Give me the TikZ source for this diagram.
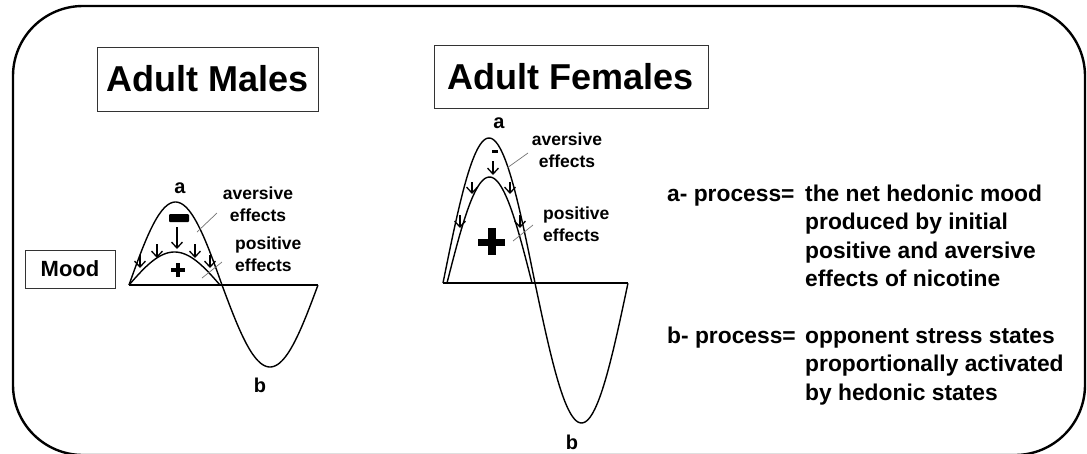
\documentclass[tikz,border=0pt]{standalone}
\usepackage{fontspec}
\setmainfont{Liberation Sans}
\usetikzlibrary{arrows.meta}
\begin{document}
\begin{tikzpicture}[x=1pt,y=-1pt,
  curve/.style={line width=1.4pt, line join=round},
  axisline/.style={line width=1.4pt},
  tbox/.style={draw=black!80, line width=0.9pt, inner sep=0pt, font=\fontsize{36}{40}\selectfont\bfseries},
  moodbox/.style={draw=black!80, line width=0.9pt, inner sep=0pt, font=\fontsize{22}{25}\selectfont\bfseries},
  lbl/.style={font=\fontsize{17.5}{22}\selectfont\bfseries, inner sep=0pt},
  ab/.style={font=\fontsize{20}{22}\selectfont\bfseries, inner sep=0pt},
  rt/.style={font=\fontsize{22.8}{28.5}\selectfont\bfseries, inner sep=0pt, anchor=north west, align=left},
  arr/.style={line width=1.3pt, -{Straight Barb[length=6pt,width=11pt,line width=1.3pt]}},
  leader/.style={draw=black!55, line width=0.7pt},
]
\useasboundingbox (0,0) rectangle (1087,453);
\begin{scope}
\clip (0,0) rectangle (1087,453);
\draw[line width=2.4pt, rounded corners=70pt] (13,6) rectangle (1085,455);
\end{scope}

% titles
\node[tbox, minimum width=221pt, minimum height=64pt] (tm) at (207.5,79) {Adult Males};
\node[tbox, minimum width=274pt, minimum height=63pt] (tf) at (571,76.5) {Adult Females};
\node[moodbox, minimum width=90pt, minimum height=38pt] (mood) at (70,269) {Mood};

% ---------------- males ----------------
\draw[axisline] (129,285) -- (318,285);
\draw[curve] plot[domain=0:1, samples=60, smooth] ({129+93*\x},{285-83*sin(180*\x)})
   -- plot[domain=0:1, samples=60, smooth] ({222+96*\x},{285+82*sin(180*\x)});
\draw[curve] plot[domain=0:1, samples=50, smooth] ({129+91*\x},{285-33*sin(180*\x)});
\fill[rounded corners=1pt] (169,214) rectangle (189,222);
\draw[arr] (177,227) -- (177,249);
\draw[arr] (157,244) -- (157,258);
\draw[arr] (195,244) -- (195,258);
\draw[arr] (140,255) -- (140,268);
\draw[arr] (210,255) -- (210,268);
\fill (171,268.2) rectangle (185,271.8);
\fill (176.2,263) rectangle (179.8,277);
\node[ab] (ma) at (180,188) {a};
\node[ab] (mb) at (260,385) {b};
\node[lbl, align=center] (mav) at (258,204) {aversive\\effects};
\node[lbl, align=left, anchor=west] (mpo) at (235,254) {positive\\effects};
\draw[leader] (197,232) -- (217,213);
\draw[leader] (202,278) -- (222,262);

% ---------------- females ----------------
\draw[axisline] (443,283) -- (628,283);
\draw[curve] plot[domain=0:1, samples=60, smooth] ({443+92*\x},{283-145*sin(180*\x)})
   -- plot[domain=0:1, samples=60, smooth] ({535+93*\x},{283+140*sin(180*\x)});
\draw[curve] plot[domain=0:1, samples=50, smooth] ({447+85*\x},{283-106*sin(180*\x)});
\fill (492,149.5) rectangle (498,152.5);
\draw[arr] (493,161) -- (493,175);
\draw[arr] (472,182) -- (472,194);
\draw[arr] (510,182) -- (510,194);
\draw[arr] (460,215) -- (460,228);
\draw[arr] (520,215) -- (520,228);
\fill (478,238.5) rectangle (505,245.5);
\fill (488,228) rectangle (495.5,255);
\node[ab] (fa) at (499,123) {a};
\node[ab] (fb) at (572,442) {b};
\node[lbl, align=center] (fav) at (567,150.5) {aversive\\effects};
\node[lbl, align=left, anchor=west] (fpo) at (543,224.5) {positive\\effects};
\draw[leader] (507,168) -- (528,153);
\draw[leader] (513,241) -- (533,225);

% ---------------- legend text ----------------
\node[rt] (ap) at (667,181) {\strut a- process=};
\node[rt] (ad) at (805,181) {\strut the net hedonic mood\\produced by initial\\positive and aversive\\effects of nicotine};
\node[rt] (bp) at (667,323) {\strut b- process=};
\node[rt] (bd) at (805,323) {\strut opponent stress states\\proportionally activated\\by hedonic states};
\end{tikzpicture}
\end{document}
